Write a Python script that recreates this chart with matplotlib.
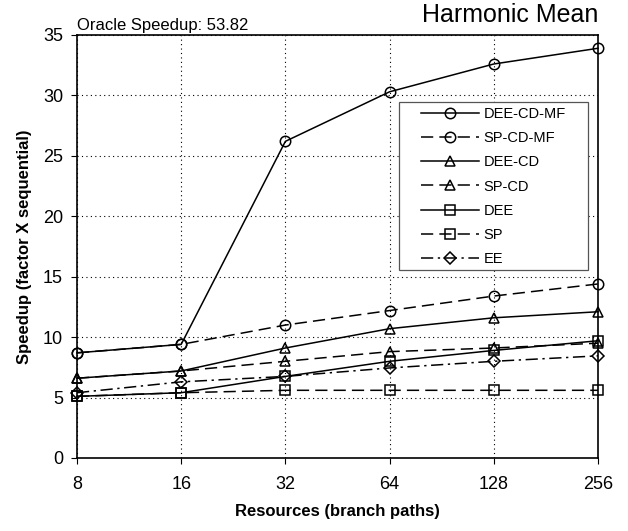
import numpy as np
import matplotlib.pyplot as plt
from matplotlib.patches import Rectangle

plt.rcParams['font.family'] = ['Liberation Sans', 'DejaVu Sans']

resources = ['8', '16', '32', '64', '128', '256']
dee_cd_mf = [8.7, 9.4, 26.2, 30.3, 32.6, 33.9]
sp_cd_mf = [8.7, 9.4, 11.0, 12.2, 13.4, 14.4]
dee_cd = [6.6, 7.2, 9.1, 10.7, 11.6, 12.1]
sp_cd = [6.6, 7.2, 8.0, 8.8, 9.1, 9.5]
dee = [5.1, 5.4, 6.75, 8.0, 8.9, 9.7]
sp = [5.1, 5.4, 5.6, 5.6, 5.6, 5.6]
ee = [5.4, 6.3, 6.75, 7.45, 8.0, 8.45]

series = [
    ('DEE-CD-MF', dee_cd_mf, 'o', '-'),
    ('SP-CD-MF', sp_cd_mf, 'o', (0, (8, 4))),
    ('DEE-CD', dee_cd, '^', '-'),
    ('SP-CD', sp_cd, '^', (0, (8, 4))),
    ('DEE', dee, 's', '-'),
    ('SP', sp, 's', (0, (8, 4))),
    ('EE', ee, 'D', (0, (8, 3, 1.5, 3))),
]

fig = plt.figure(figsize=(6.28, 5.31), dpi=100)
ax = fig.add_axes([0.1226, 0.1375, 0.8296, 0.7966])
x = np.arange(len(resources))

for name, vals, m, ls in series:
    ms = 6 if m == 'D' else 7.5
    ax.plot(x, vals, linestyle=ls, color='black', linewidth=1.1, marker=m,
            markersize=ms, markerfacecolor='none', markeredgecolor='black',
            markeredgewidth=1.1, label=name, clip_on=False)

ax.set_xlim(0, 5)
ax.set_ylim(0, 35)
ax.set_xticks(x)
ax.set_xticklabels(resources)
ax.set_yticks(np.arange(0, 36, 5))
ax.tick_params(labelsize=13, direction='out', length=4, width=0.8, pad=6)
ax.tick_params(axis='x', pad=9)
ax.grid(True, linestyle=(0, (1, 3)), color='black', linewidth=0.8)
for s in ax.spines.values():
    s.set_linewidth(1.2)

ax.set_xlabel('Resources (branch paths)', fontsize=12, fontweight='bold', labelpad=8)
ax.set_ylabel('Speedup (factor X sequential)', fontsize=12, fontweight='bold', labelpad=8)

ax.text(0, 1.004, 'Oracle Speedup: 53.82', transform=ax.transAxes, fontsize=12,
        ha='left', va='bottom')
ax.text(1.0, 1.02, 'Harmonic Mean', transform=ax.transAxes, fontsize=18,
        ha='right', va='bottom')

# legend box drawn separately so its padding can match
ax.add_patch(Rectangle((0.618, 0.4444), 0.363, 0.3972, transform=ax.transAxes,
                       facecolor='white', edgecolor='#555555', linewidth=0.9,
                       zorder=4))
leg = ax.legend(loc='upper left', bbox_to_anchor=(0.66, 0.83), fontsize=10.5,
                handlelength=4.0, labelspacing=0.7, frameon=False,
                borderpad=0, borderaxespad=0, handletextpad=0.3)
leg.set_zorder(5)

fig.savefig('out.png', dpi=100)
